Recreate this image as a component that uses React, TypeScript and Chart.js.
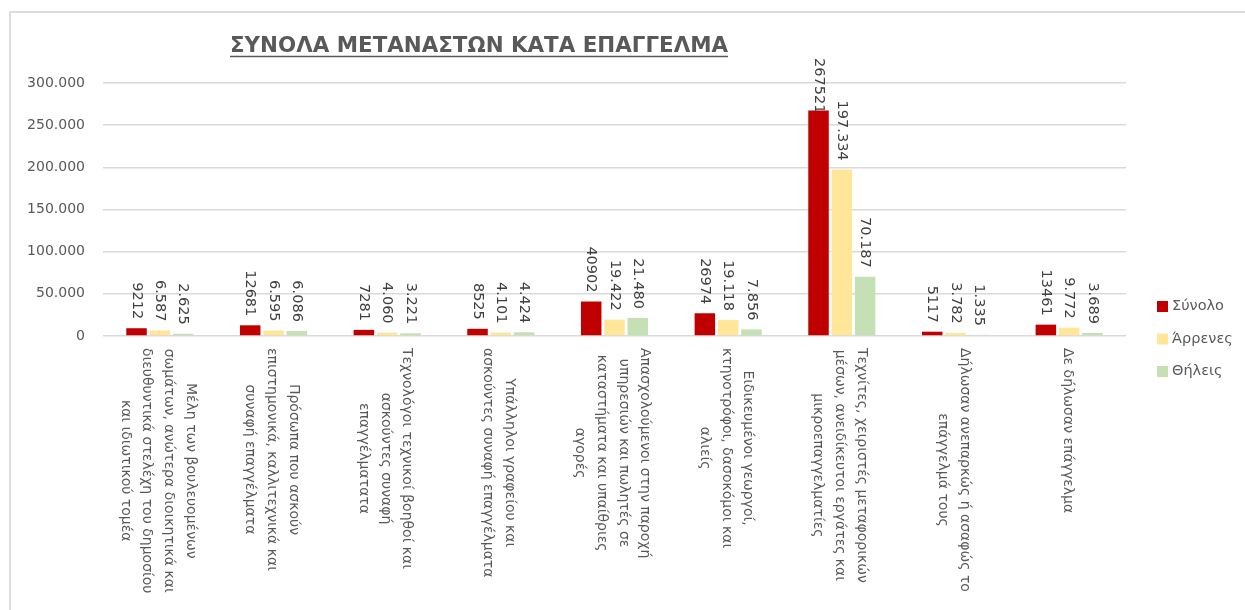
import React, { useEffect, useRef } from "react";
import { Chart, registerables } from "chart.js";

Chart.register(...registerables);

const TITLE = "ΣΥΝΟΛΑ ΜΕΤΑΝΑΣΤΩΝ ΚΑΤΑ ΕΠΑΓΓΕΛΜΑ";

const CATEGORIES: string[][] = [
  ["Μέλη των βουλευομένων", "σωμάτων, ανώτερα διοικητικά και", "διευθυντικά στελέχη του δημοσίου", "και ιδιωτικού τομέα"],
  ["Πρόσωπα που ασκούν", "επιστημονικά, καλλιτεχνικά και", "συναφή επαγγέλματα"],
  ["Τεχνολόγοι τεχνικοί βοηθοί και", "ασκούντες συναφή", "επαγγέλματατα"],
  ["Υπάλληλοι γραφείου και", "ασκούντες συναφή επαγγέλματα"],
  ["Απασχολούμενοι στην παροχή", "υπηρεσιών και πωλητές σε", "καταστήματα και υπαίθριες", "αγορές"],
  ["Ειδικευμένοι γεωργοί,", "κτηνοτρόφοι, δασοκόμοι και", "αλιείς"],
  ["Τεχνίτες, χειριστές μεταφορικών", "μέσων, ανειδίκευτοι εργάτες και", "μικροεπαγγελματίες"],
  ["Δήλωσαν ανεπαρκώς ή ασαφώς το", "επάγγελμά τους"],
  ["Δε δήλωσαν επάγγελμα"],
];

const SERIES_NAMES = ["Σύνολο", "Άρρενες", "Θήλεις"];
const TOTAL = [9212, 12681, 7281, 8525, 40902, 26974, 267521, 5117, 13461];
const MALE = [6587, 6595, 4060, 4101, 19422, 19118, 197334, 3782, 9772];
const FEMALE = [2625, 6086, 3221, 4424, 21480, 7856, 70187, 1335, 3689];
// whether each series' data labels use a thousands separator
const LABEL_SEPARATOR = [false, true, true];

const Y_MIN = 0;
const Y_MAX = 300000;
const Y_STEP = 50000;

const COLORS = ["#C00000", "#FFE699", "#C5E0B4"];
const TEXT = "#595959";
const LABEL_TEXT = "#404040";
const GRID = "#d9d9d9";
const FONT = "'DejaVu Sans', sans-serif";

const fmtDots = (v: number) => String(Math.round(v)).replace(/\B(?=(\d{3})+(?!\d))/g, ".");

const titlePlugin = {
  id: "customTitle",
  afterDraw(chart: any) {
    const ctx = chart.ctx;
    ctx.save();
    ctx.font = `bold 21.4px ${FONT}`;
    ctx.fillStyle = TEXT;
    ctx.textAlign = "left";
    ctx.textBaseline = "alphabetic";
    const x = 230;
    const y = 52;
    ctx.fillText(TITLE, x, y);
    const w = ctx.measureText(TITLE).width;
    ctx.strokeStyle = TEXT;
    ctx.lineWidth = 1.5;
    ctx.beginPath();
    ctx.moveTo(x, y + 4.5);
    ctx.lineTo(x + w, y + 4.5);
    ctx.stroke();
    ctx.restore();
  },
};

const dataLabelPlugin = {
  id: "rotDataLabels",
  afterDatasetsDraw(chart: any) {
    const ctx = chart.ctx;
    const area = chart.chartArea;
    ctx.save();
    ctx.font = `14.5px ${FONT}`;
    ctx.fillStyle = LABEL_TEXT;
    chart.data.datasets.forEach((ds: any, di: number) => {
      const meta = chart.getDatasetMeta(di);
      meta.data.forEach((bar: any, i: number) => {
        const v = ds.data[i];
        const txt = LABEL_SEPARATOR[di] ? fmtDots(v) : String(v);
        const w = ctx.measureText(txt).width;
        let yEnd = bar.y - 9;
        const minTop = area.top - 25;
        if (yEnd - w < minTop) yEnd = minTop + w;
        ctx.save();
        ctx.translate(bar.x, yEnd);
        ctx.rotate(Math.PI / 2);
        ctx.textAlign = "right";
        ctx.textBaseline = "middle";
        ctx.fillText(txt, 0, 0);
        ctx.restore();
      });
    });
    ctx.restore();
  },
};

const categoryLabelPlugin = {
  id: "rotCategoryLabels",
  afterDraw(chart: any) {
    const ctx = chart.ctx;
    const xs = chart.scales.x;
    const area = chart.chartArea;
    const lh = 21.7;
    ctx.save();
    ctx.font = `14px ${FONT}`;
    ctx.fillStyle = TEXT;
    chart.data.labels.forEach((lines: string[], i: number) => {
      const cx = xs.getPixelForValue(i) - 2;
      const maxW = Math.max(...lines.map((l) => ctx.measureText(l).width));
      const yc = area.bottom + 12 + maxW / 2;
      const n = lines.length;
      lines.forEach((line, j) => {
        const lx = cx + ((n - 1) / 2 - j) * lh;
        ctx.save();
        ctx.translate(lx, yc);
        ctx.rotate(Math.PI / 2);
        ctx.textAlign = "center";
        ctx.textBaseline = "middle";
        ctx.fillText(line, 0, 0);
        ctx.restore();
      });
    });
    ctx.restore();
  },
};

const legendPlugin = {
  id: "customLegend",
  afterDraw(chart: any) {
    const ctx = chart.ctx;
    const area = chart.chartArea;
    ctx.save();
    ctx.font = `14.5px ${FONT}`;
    ctx.textAlign = "left";
    ctx.textBaseline = "middle";
    const x0 = area.right + 31;
    const y0 = 306.5;
    chart.data.datasets.forEach((ds: any, di: number) => {
      const y = y0 + di * 32.5;
      ctx.fillStyle = ds.backgroundColor;
      ctx.fillRect(x0, y - 5.5, 11, 11);
      ctx.fillStyle = TEXT;
      ctx.fillText(ds.label, x0 + 15, y);
    });
    ctx.restore();
  },
};

export default function App() {
  const ref = useRef<HTMLCanvasElement | null>(null);

  useEffect(() => {
    if (!ref.current) return;
    const chart = new Chart(ref.current, {
      type: "bar",
      data: {
        labels: CATEGORIES as any,
        datasets: [
          { label: SERIES_NAMES[0], data: TOTAL, backgroundColor: COLORS[0] },
          { label: SERIES_NAMES[1], data: MALE, backgroundColor: COLORS[1] },
          { label: SERIES_NAMES[2], data: FEMALE, backgroundColor: COLORS[2] },
        ],
      },
      options: {
        responsive: false,
        animation: false,
        layout: { padding: { top: 83, right: 119, left: 0, bottom: 0 } },
        datasets: {
          bar: { categoryPercentage: 0.615, barPercentage: 0.88 },
        },
        plugins: {
          legend: { display: false },
          title: { display: false },
          tooltip: { enabled: false },
        },
        scales: {
          x: {
            ticks: { display: false },
            grid: { display: false },
            border: { display: false },
            afterFit: (s: any) => {
              s.height = 274;
            },
          },
          y: {
            min: Y_MIN,
            max: Y_MAX,
            ticks: {
              stepSize: Y_STEP,
              padding: 18,
              color: TEXT,
              font: { family: FONT, size: 14 },
              callback: (v: any) => fmtDots(Number(v)),
            },
            grid: { color: GRID, lineWidth: 1.5, drawTicks: false },
            border: { display: false },
            afterFit: (s: any) => {
              s.width = 103;
            },
          },
        },
      },
      plugins: [titlePlugin, dataLabelPlugin, categoryLabelPlugin, legendPlugin],
    });
    return () => chart.destroy();
  }, []);

  return (
    <div style={{ position: "absolute", left: 0, top: 0, width: 1245, height: 610, overflow: "hidden", background: "#fff" }}>
      <div
        style={{
          position: "absolute",
          left: 9,
          top: 11,
          width: 1300,
          height: 700,
          borderLeft: "2px solid #dcdcdc",
          borderTop: "2px solid #dcdcdc",
        }}
      />
      <canvas ref={ref} width={1245} height={610} style={{ position: "absolute", left: 0, top: 0, width: 1245, height: 610 }} />
    </div>
  );
}
